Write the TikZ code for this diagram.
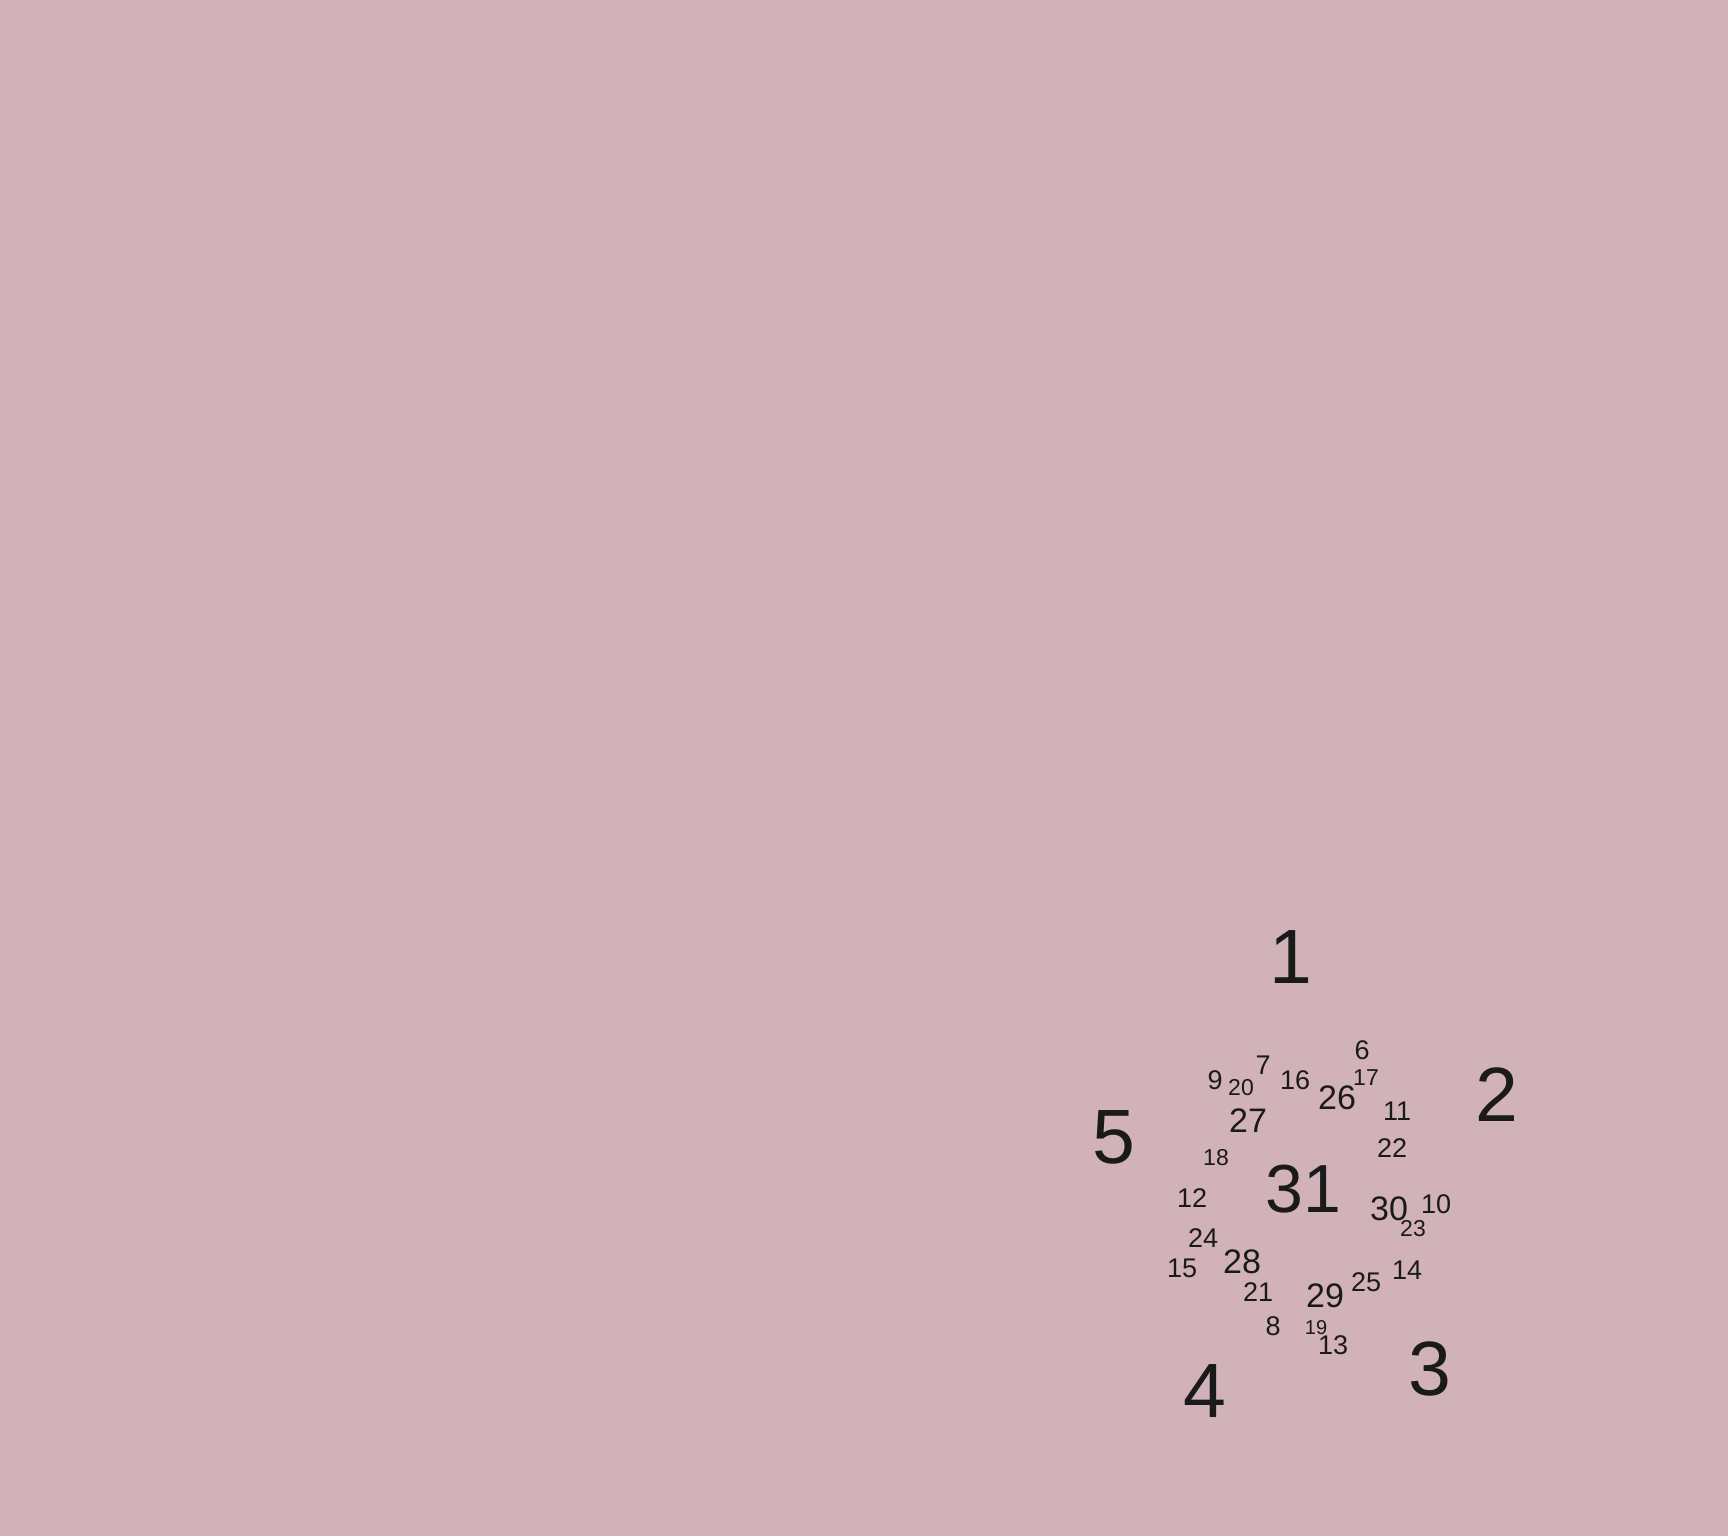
\documentclass[tikz,border=0pt]{standalone}
\usepackage{fontspec}
\setmainfont{Liberation Sans}
\usepackage{xcolor}

% set colours: vc<panel><set> fill, ve<panel><set> edge
\definecolor{vca1}{HTML}{F5DCA0} \definecolor{vea1}{HTML}{D4A030}
\definecolor{vca2}{HTML}{EA9DA0} \definecolor{vea2}{HTML}{C0303A}
\definecolor{vcb1}{HTML}{F5DCA0} \definecolor{veb1}{HTML}{D4A030}
\definecolor{vcb2}{HTML}{EA9DA0} \definecolor{veb2}{HTML}{C0303A}
\definecolor{vcb3}{HTML}{C8C0FF} \definecolor{veb3}{HTML}{6650E0}
\definecolor{vcc1}{HTML}{F5DCA0} \definecolor{vec1}{HTML}{D4A030}
\definecolor{vcc2}{HTML}{E6A391} \definecolor{vec2}{HTML}{B04A30}
\definecolor{vcc3}{HTML}{FAA8D4} \definecolor{vec3}{HTML}{E040A0}
\definecolor{vcc4}{HTML}{B1BBEE} \definecolor{vec4}{HTML}{4858D0}
\definecolor{vcd1}{HTML}{F5DCA0} \definecolor{ved1}{HTML}{D4A030}
\definecolor{vcd2}{HTML}{E6A391} \definecolor{ved2}{HTML}{B04A30}
\definecolor{vcd3}{HTML}{FAADC0} \definecolor{ved3}{HTML}{E04070}
\definecolor{vcd4}{HTML}{C5B4EA} \definecolor{ved4}{HTML}{7040C0}
\definecolor{vcd5}{HTML}{BBD6FE} \definecolor{ved5}{HTML}{4A8AE0}
\definecolor{ink}{HTML}{1A1A1A}

% \defset{panel}{set}{transform}{path}
\newcommand\defset[4]{\expandafter\def\csname vs#1#2\endcsname##1{\path[##1,#3] #4;}}

% fill every region with the mean colour of the sets that hold it
\newcommand\vennfill[2]{%
  \pgfmathtruncatemacro\vnmax{2^#1-1}
  \foreach \s in {1,...,#1} {
    \foreach \m in {1,...,\vnmax} {
      \gdef\vncount{0}
      \foreach \k in {1,...,#1} {
        \pgfmathtruncatemacro\vbit{mod(floor(\m/2^(\k-1)),2)}
        \ifnum\vbit=1 \pgfmathtruncatemacro\vtmp{\vncount+1}\xdef\vncount{\vtmp}\fi
      }
      \ifnum\vncount=\s
        \begin{scope}
          \gdef\vnseen{0}
          \foreach \k in {1,...,#1} {
            \pgfmathtruncatemacro\vbit{mod(floor(\m/2^(\k-1)),2)}
            \ifnum\vbit=1
              \csname vs#2\k\endcsname{clip}
              \pgfmathtruncatemacro\vtmp{\vnseen+1}\xdef\vnseen{\vtmp}
              \ifnum\vnseen=1 \xglobal\colorlet{vmix}{vc#2\k}
              \else \pgfmathtruncatemacro\vw{100*(\vnseen-1)/\vnseen}\xglobal\colorlet{vmix}{vmix!\vw!vc#2\k}\fi
            \fi
          }
          \ifnum\s>1 \xglobal\colorlet{vmix}{vmix!94!black}\fi
          \fill[vmix] (0,0) rectangle (1728,1536);
        \end{scope}
      \fi
    }
  }
  \foreach \k in {1,...,#1} {\csname vs#2\k\endcsname{draw=ve#2\k, line width=1.5pt, draw opacity=0.85}}
}

\tikzset{
  panel/.style={font=\fontsize{30}{32}\selectfont, text=black},
  huge/.style={font=\fontsize{77}{80}\selectfont, text=ink},
  mid/.style={font=\fontsize{55}{58}\selectfont, text=ink},
  lbl/.style={font=\fontsize{34}{36}\selectfont, text=ink},
  num/.style={font=\fontsize{27}{29}\selectfont, text=ink},
  sml/.style={font=\fontsize{23}{25}\selectfont, text=ink},
  tny/.style={font=\fontsize{20}{22}\selectfont, text=ink},
}

% a
\defset{a}{1}{}{(328,407) circle (240)}
\defset{a}{2}{}{(568,407) circle (240)}
% b
\defset{b}{1}{}{(1188,299) circle (212)}
\defset{b}{2}{}{(1403,299) circle (212)}
\defset{b}{3}{}{(1296,513) circle (212)}
% c
\defset{c}{1}{rotate around={-50.6:(304,1198)}}{(304,1198) ellipse [x radius=325, y radius=160]}
\defset{c}{2}{rotate around={-50.6:(435,1124)}}{(435,1124) ellipse [x radius=325, y radius=160]}
\defset{c}{3}{rotate around={50.6:(463,1124)}}{(463,1124) ellipse [x radius=325, y radius=160]}
\defset{c}{4}{rotate around={50.6:(594,1198)}}{(594,1198) ellipse [x radius=325, y radius=160]}
% d : each a turn of the first
\foreach \k in {1,...,5} {
  \pgfmathtruncatemacro\dang{-72*(\k-1)}
  \xdef\dtmp{\noexpand\defset{d}{\k}{shift={(1308,1190)}, xscale=0.93, yscale=1.08, rotate=\dang}{(-17.7,-87) ellipse [x radius=96, y radius=240]}}
  \dtmp
}

\begin{document}
\begin{tikzpicture}[x=1pt, y=-1pt]

    \useasboundingbox (0,0) rectangle (1728,1536);

    % panel labels
    \node[panel] (pa) at (42,50) {a};
    \node[panel] (pb) at (886,50) {b};
    \node[panel] (pc) at (40,800) {c};
    \node[panel] (pd) at (886,800) {d};

    % a : two sets
    \vennfill{2}{a}
    \node[huge] (aA) at (216,416) {A};
    \node[mid]  (aC) at (449,415) {C};
    \node[huge] (aB) at (680,416) {B};

    % b : three sets
    \vennfill{3}{b}
    \node[huge] (bA) at (1086,286) {A};
    \node[huge] (bB) at (1505,286) {B};
    \node[huge] (bC) at (1285,622) {C};
    \foreach \t/\x/\y in {D/1290/228, G/1301/383, F/1155/453, E/1430/453}
        \node[mid] (b\t) at (\x,\y) {\t};

    % c : four sets
    \vennfill{4}{c}
    \node[huge] (cA) at (154,1153) {A};
    \node[huge] (cD) at (737,1153) {D};
    \foreach \t/\x/\y in {B/317/922, C/548/937, E/260/1032, F/446/1003, G/631/1032,
                          K/358/1128, L/538/1128, O/446/1254, J/287/1307, H/605/1307, I/437/1425}
        \node[mid] (c\t) at (\x,\y) {\t};
    \node[lbl] (cN) at (381,1353) {N};
    \node[lbl] (cM) at (512,1348) {M};

    % d : five sets
    \vennfill{5}{d}
    \foreach \t/\x/\y in {1/1291/957, 2/1497/1095, 3/1430/1369, 4/1205/1391, 5/1114/1137}
        \node[huge] (d\t) at (\x,\y) {\t};
    \node[font=\fontsize{68}{70}\selectfont, text=ink] (d31) at (1303,1189) {31};
    \foreach \t/\x/\y in {26/1337/1098, 27/1248/1121, 30/1389/1209, 28/1242/1262, 29/1325/1296}
        \node[lbl] (d\t) at (\x,\y) {\t};
    \foreach \t/\x/\y in {12/1192/1198, 14/1407/1270, 11/1397/1111, 22/1392/1148, 10/1436/1204,
                          13/1333/1345, 8/1273/1326, 25/1366/1282, 24/1203/1238, 15/1182/1268,
                          21/1258/1292, 16/1295/1080, 7/1263/1065, 6/1362/1050, 9/1215/1080}
        \node[num] (d\t) at (\x,\y) {\t};
    \foreach \t/\x/\y in {17/1366/1078, 20/1241/1088, 18/1216/1158, 23/1413/1229}
        \node[sml] (d\t) at (\x,\y) {\t};
    \node[tny] (d19) at (1316,1328) {19};

\end{tikzpicture}
\end{document}
